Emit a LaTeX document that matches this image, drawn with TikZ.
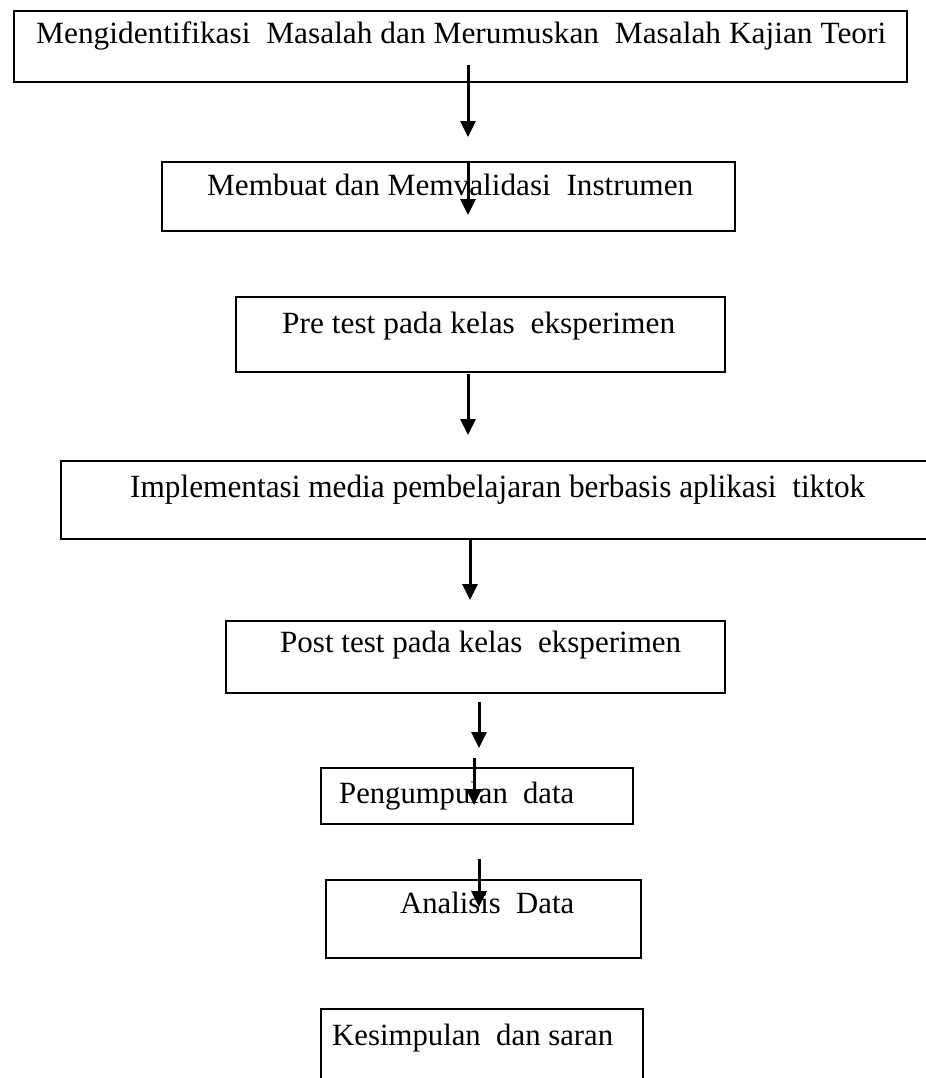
\documentclass[tikz,border=0pt]{standalone}
\usepackage{fontspec}
\setmainfont{Liberation Serif}
\usetikzlibrary{arrows.meta}
\newcommand\fitto[2]{\resizebox{#1bp}{\height}{#2}}
\begin{document}
\begin{tikzpicture}[x=1bp,y=-1bp,
  box/.style={draw=black, line width=1.8bp, inner sep=0pt, anchor=north west},
  lbl/.style={anchor=base west, inner sep=0pt, font=\fontsize{31}{36}\selectfont},
  biglbl/.style={lbl, font=\fontsize{32.5}{38}\selectfont},
  flow/.style={line width=3bp, -{Triangle[length=16bp,width=15bp]}}]
\useasboundingbox (0,0) rectangle (926,1078);
\clip (0,0) rectangle (926,1078);
% boxes
\node[box, minimum width=893bp, minimum height=71bp] (b1) at (13,10) {};
\node[box, minimum width=573bp, minimum height=69bp] (b2) at (161,161) {};
\node[box, minimum width=489bp, minimum height=75bp] (b3) at (235,296) {};
\node[box, minimum width=880bp, minimum height=78bp] (b4) at (60,460) {};
\node[box, minimum width=499bp, minimum height=72bp] (b5) at (225,620) {};
\node[box, minimum width=312bp, minimum height=56bp] (b6) at (320,767) {};
\node[box, minimum width=315bp, minimum height=78bp] (b7) at (325,879) {};
\node[box, minimum width=322bp, minimum height=90bp] (b8) at (320,1008) {};
% labels
\node[lbl] (t1) at (36,43) {\fitto{850}{Mengidentifikasi\ \ Masalah dan Merumuskan\ \ Masalah Kajian Teori}};
\node[lbl] (t2) at (207,195) {\fitto{486}{Membuat dan Memvalidasi\ \ Instrumen}};
\node[lbl] (t3) at (282,333) {\fitto{393}{Pre test pada kelas\ \ eksperimen}};
\node[biglbl] (t4) at (130,497) {\fitto{735}{Implementasi media pembelajaran berbasis aplikasi\ \ tiktok}};
\node[lbl] (t5) at (280,652) {\fitto{401}{Post test pada kelas\ \ eksperimen}};
\node[lbl] (t6) at (339,803) {\fitto{235}{Pengumpulan\ \ data}};
\node[lbl] (t7) at (400,913) {\fitto{174}{Analisis\ \ Data}};
\node[lbl] (t8) at (332,1045) {\fitto{281}{Kesimpulan\ \ dan saran}};
% arrow end points
\coordinate (a1s) at (468,65);  \coordinate (a1e) at (468,137);
\coordinate (a2s) at (468,161); \coordinate (a2e) at (468,215);
\coordinate (a3s) at (468,374); \coordinate (a3e) at (468,435);
\coordinate (a4s) at (470,540); \coordinate (a4e) at (470,600);
\coordinate (a5s) at (479,702); \coordinate (a5e) at (479,748);
\coordinate (a6s) at (474,758); \coordinate (a6e) at (474,805);
\coordinate (a7s) at (479,859); \coordinate (a7e) at (479,907);
\draw[flow] (a1s) -- (a1e);
\draw[flow] (a2s) -- (a2e);
\draw[flow] (a3s) -- (a3e);
\draw[flow] (a4s) -- (a4e);
\draw[flow] (a5s) -- (a5e);
\draw[flow] (a6s) -- (a6e);
\draw[flow] (a7s) -- (a7e);
\end{tikzpicture}
\end{document}
